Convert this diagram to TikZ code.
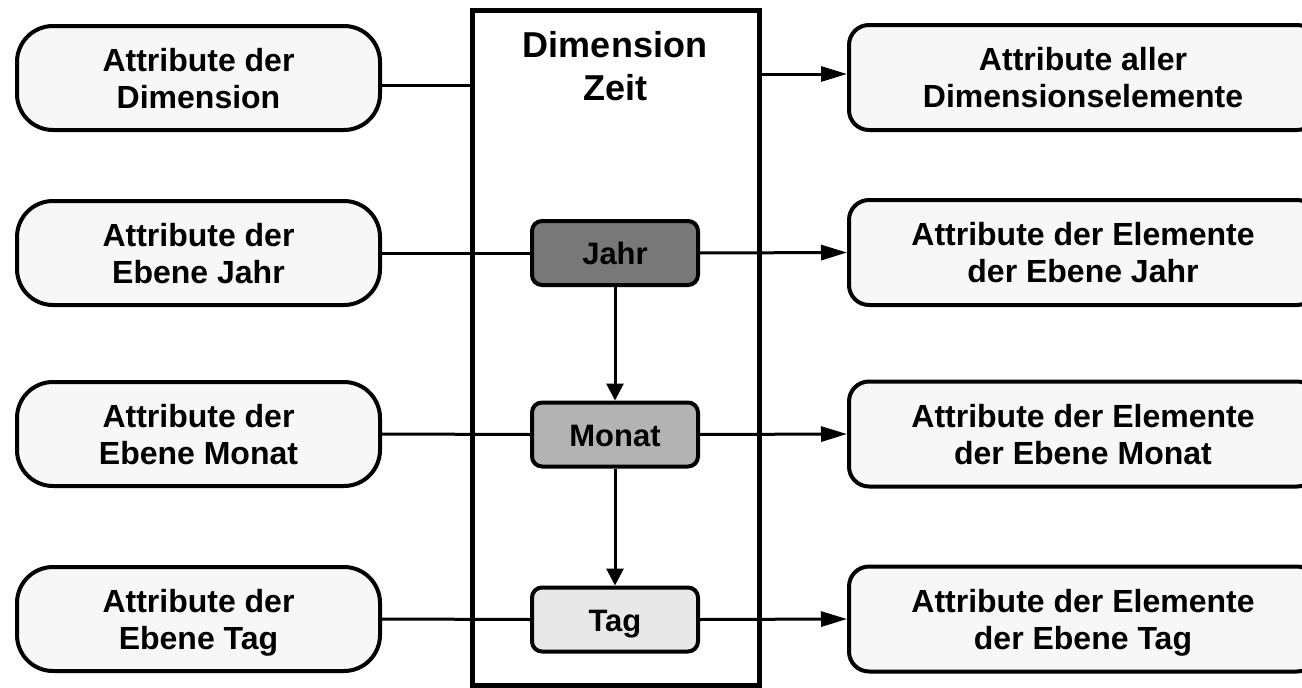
\documentclass[tikz,border=0pt]{standalone}
\usepackage{fontspec}
\setmainfont{Liberation Sans}
\usetikzlibrary{arrows.meta}
\definecolor{boxfill}{HTML}{F7F7F7}
\definecolor{jahrfill}{HTML}{787878}
\definecolor{monatfill}{HTML}{B3B3B3}
\definecolor{tagfill}{HTML}{E8E8E8}
\begin{document}
\begin{tikzpicture}[x=1pt,y=-1pt,
  attr/.style={draw, line width=4pt, fill=boxfill, align=center, inner sep=0pt,
    text depth=0pt, font=\fontsize{32}{37}\selectfont\bfseries},
  leftbox/.style={attr, minimum width=363pt, minimum height=104pt, rounded corners=36pt},
  rightbox/.style={attr, minimum width=468pt, minimum height=105pt, rounded corners=20pt},
  level/.style={draw, line width=4pt, minimum width=166pt, minimum height=64pt,
    rounded corners=10pt, inner sep=0pt, text height=23pt, text depth=0pt,
    font=\fontsize{31}{36}\selectfont\bfseries},
  conn/.style={line width=3pt},
  harrow/.style={conn, -{Triangle[length=26pt,width=15pt]}},
  varrow/.style={conn, -{Triangle[length=17pt,width=17pt]}},
]
\clip (0,0) rectangle (1302,688);
\fill[white] (0,0) rectangle (1302,688);

% frame
\node[draw, line width=5pt, minimum width=287pt, minimum height=674.5pt, inner sep=0pt] (frame) at (615.5,347.75) {};
\node[align=center, font=\fontsize{36}{43}\selectfont\bfseries] (title) at (615,66) {Dimension\\Zeit};

% left boxes
\node[leftbox] (lb1) at (198.5,78) {Attribute der\\Dimension};
\node[leftbox] (lb2) at (198.5,253) {Attribute der\\Ebene Jahr};
\node[leftbox] (lb3) at (198.5,434) {Attribute der\\Ebene Monat};
\node[leftbox] (lb4) at (198.5,619) {Attribute der\\Ebene Tag};

% right boxes
\node[rightbox] (rb1) at (1083,77.5) {Attribute aller\\Dimensionselemente};
\node[rightbox] (rb2) at (1083,252.5) {Attribute der Elemente\\der Ebene Jahr};
\node[rightbox] (rb3) at (1083,434) {Attribute der Elemente\\der Ebene Monat};
\node[rightbox] (rb4) at (1083,619) {Attribute der Elemente\\der Ebene Tag};

% levels
\node[level, fill=jahrfill] (jahr) at (615,253) {Jahr};
\node[level, fill=monatfill] (monat) at (615,434.5) {Monat};
\node[level, fill=tagfill] (tag) at (615,619.5) {Tag};

\coordinate (y85) at (0,85);
\coordinate (y74) at (0,74);

% connectors
\draw[conn] (lb1.east |- y85) -- (frame.west |- y85);
\draw[harrow] (frame.east |- y74) -- (rb1.west |- y74);

\draw[conn] (lb2.east) -- (jahr.west);
\draw[harrow] (jahr.east) -- (rb2.west);
\draw[conn] (lb3.east) -- (monat.west);
\draw[harrow] (monat.east) -- (rb3.west);
\draw[conn] (lb4.east) -- (tag.west);
\draw[harrow] (tag.east) -- (rb4.west);

\draw[varrow] (jahr.south) -- (monat.north);
\draw[varrow] (monat.south) -- (tag.north);
\end{tikzpicture}
\end{document}
